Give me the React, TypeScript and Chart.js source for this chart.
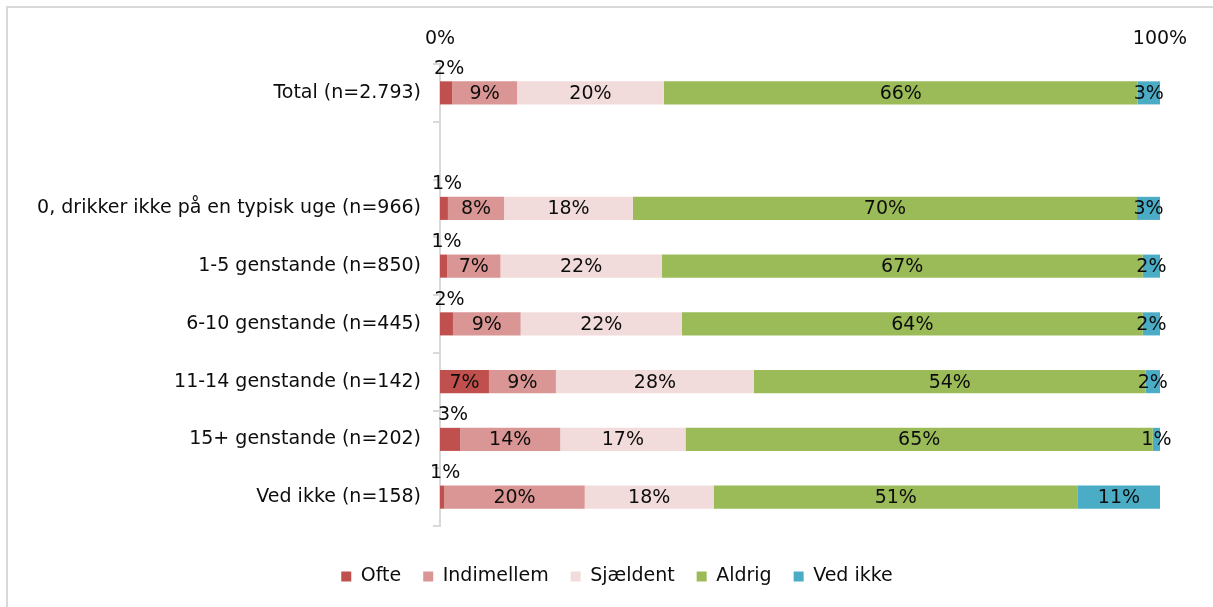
import React, { useEffect, useRef } from "react";
import { Chart, registerables } from "chart.js";

Chart.register(...registerables);

const categories = [
  "Total (n=2.793)",
  "",
  "0, drikker ikke på en typisk uge (n=966)",
  "1-5 genstande (n=850)",
  "6-10 genstande (n=445)",
  "11-14 genstande (n=142)",
  "15+ genstande (n=202)",
  "Ved ikke (n=158)",
];

const seriesNames = ["Ofte", "Indimellem", "Sjældent", "Aldrig", "Ved ikke"];

const ofte = [1.7, null, 1.1, 1.0, 1.8, 6.8, 2.8, 0.6];
const indimellem = [9.0, null, 7.8, 7.4, 9.4, 9.3, 13.9, 19.5];
const sjaeldent = [20.4, null, 17.9, 22.4, 22.4, 27.5, 17.4, 17.9];
const aldrig = [65.8, null, 70.0, 66.8, 64.0, 54.4, 64.9, 50.6];
const vedIkke = [3.1, null, 3.2, 2.4, 2.4, 2.0, 1.0, 11.4];

const xTickLabels = ["0%", "100%"];

const colors = ["#C0504D", "#DA9694", "#F2DCDB", "#9BBB59", "#4BACC6"];

const FONT = "'DejaVu Sans', sans-serif";
const FS = 19;

const labelPlugin = {
  id: "segLabels",
  afterDatasetsDraw(chart: any) {
    const ctx = chart.ctx;
    ctx.save();
    ctx.font = `${FS}px ${FONT}`;
    ctx.fillStyle = "#0d0d0d";
    ctx.textAlign = "center";
    ctx.textBaseline = "middle";
    chart.data.datasets.forEach((ds: any, di: number) => {
      const meta = chart.getDatasetMeta(di);
      meta.data.forEach((el: any, i: number) => {
        const v = ds.data[i];
        if (v === null || v === undefined) return;
        const { x, y, base } = el.getProps(["x", "y", "base"], true);
        const cx = (x + base) / 2;
        const txt = Math.round(v) + "%";
        if (di === 0 && v < 5) {
          ctx.fillText(txt, cx + 3, y - 24);
        } else {
          ctx.fillText(txt, cx, y + 1);
        }
      });
    });
    ctx.restore();
  },
};

const legendPlace = {
  id: "legendPlace",
  beforeInit(chart: any) {
    const lg = chart.legend;
    if (!lg) return;
    const orig = lg.fit;
    lg.fit = function () {
      orig.call(this);
      this.height = 81;
    };
  },
  afterLayout(chart: any) {
    const lg = chart.legend;
    if (!lg) return;
    lg.top += 19;
    lg.bottom += 19;
    lg.left += 33;
    lg.right += 33;
  },
};

export default function App() {
  const ref = useRef<HTMLCanvasElement>(null);
  useEffect(() => {
    const series = [ofte, indimellem, sjaeldent, aldrig, vedIkke];
    const chart = new Chart(ref.current!, {
      type: "bar",
      data: {
        labels: categories,
        datasets: series.map((d, i) => ({
          label: seriesNames[i],
          data: d as any,
          backgroundColor: colors[i],
          borderWidth: 0,
          barPercentage: 0.8,
          categoryPercentage: 0.5,
        })),
      },
      options: {
        indexAxis: "y",
        animation: false,
        responsive: false,
        maintainAspectRatio: false,
        layout: { padding: { left: 8, right: 53, top: 0, bottom: 0 } },
        scales: {
          x: {
            position: "top",
            stacked: true,
            min: 0,
            max: 100,
            grid: { display: false, drawTicks: false },
            border: { display: false },
            afterBuildTicks: (s: any) => {
              s.ticks = [{ value: 0 }, { value: 100 }];
            },
            afterFit: (s: any) => {
              s.height = 64;
            },
            ticks: {
              padding: 14,
              color: "#0d0d0d",
              font: { family: FONT, size: FS },
              callback: (v: any) => (v === 0 ? xTickLabels[0] : xTickLabels[1]),
            },
          },
          y: {
            stacked: true,
            grid: {
              display: true,
              drawOnChartArea: false,
              drawTicks: true,
              tickLength: 7,
              offset: true,
              color: "#d9d9d9",
              lineWidth: 2,
            },
            border: { display: true, color: "#d9d9d9", width: 2 },
            afterFit: (s: any) => {
              s.width = 432;
            },
            ticks: {
              padding: 12,
              color: "#0d0d0d",
              font: { family: FONT, size: FS },
              autoSkip: false,
            },
          },
        },
        plugins: {
          legend: {
            position: "bottom",
            labels: {
              boxWidth: 10,
              boxHeight: 10,
              padding: 22,
              color: "#0d0d0d",
              font: { family: FONT, size: FS },
            },
          },
          tooltip: { enabled: false },
        },
      },
      plugins: [labelPlugin, legendPlace],
    });
    return () => chart.destroy();
  }, []);

  return (
    <div
      style={{
        position: "fixed",
        left: 0,
        top: 0,
        width: 1213,
        height: 607,
        overflow: "hidden",
        background: "#fff",
      }}
    >
      <div
        style={{
          position: "absolute",
          left: 10,
          top: -22,
          fontFamily: FONT,
          fontSize: 19,
          color: "#0d0d0d",
          whiteSpace: "nowrap",
        }}
      >
        (Procentfordeling)
      </div>
      <div
        style={{
          position: "absolute",
          left: 6,
          top: 6,
          width: 1300,
          height: 700,
          border: "2px solid #d9d9d9",
        }}
      />
      <canvas
        ref={ref}
        width={1213}
        height={607}
        style={{ position: "absolute", left: 0, top: 0 }}
      />
    </div>
  );
}
